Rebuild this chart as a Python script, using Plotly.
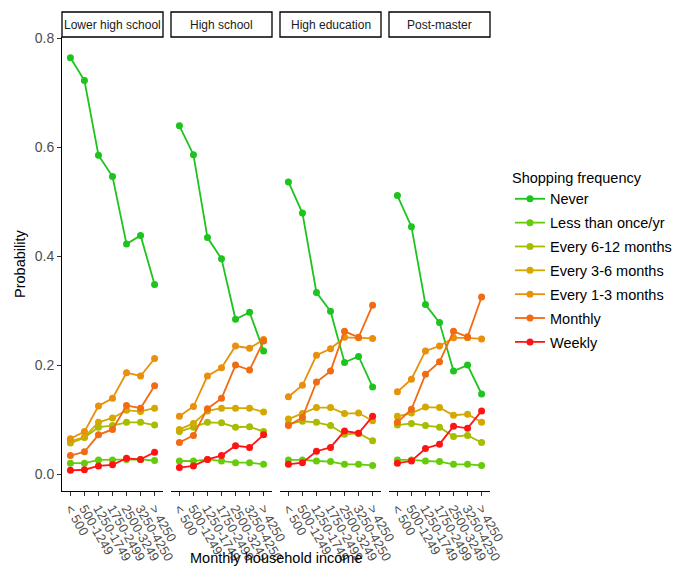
import plotly.graph_objects as go

income = ["< 500", "500-1249", "1250-1749", "1750-2499", "2500-3249", "3250-4250", "> 4250"]
education = ["Lower high school", "High school", "High education", "Post-master"]
frequency = ["Never", "Less than once/yr", "Every 6-12 months", "Every 3-6 months",
             "Every 1-3 months", "Monthly", "Weekly"]
colors = ["#1DC41D", "#66CC0A", "#A8BC00", "#D4A800", "#E8900A", "#F26B12", "#FF1414"]

# probabilities per education level, one list per frequency (order as `frequency`)
lower_high_school = [
    [0.764, 0.722, 0.585, 0.546, 0.422, 0.438, 0.348],
    [0.020, 0.020, 0.026, 0.026, 0.027, 0.027, 0.025],
    [0.057, 0.067, 0.086, 0.089, 0.095, 0.095, 0.090],
    [0.060, 0.068, 0.095, 0.103, 0.117, 0.115, 0.121],
    [0.065, 0.078, 0.125, 0.139, 0.186, 0.180, 0.212],
    [0.034, 0.041, 0.072, 0.082, 0.126, 0.121, 0.162],
    [0.007, 0.008, 0.015, 0.017, 0.029, 0.027, 0.040],
]
high_school = [
    [0.639, 0.586, 0.434, 0.395, 0.284, 0.297, 0.226],
    [0.024, 0.024, 0.027, 0.024, 0.021, 0.021, 0.018],
    [0.078, 0.086, 0.095, 0.094, 0.086, 0.087, 0.078],
    [0.082, 0.093, 0.116, 0.121, 0.121, 0.121, 0.114],
    [0.106, 0.124, 0.180, 0.195, 0.235, 0.231, 0.247],
    [0.058, 0.071, 0.120, 0.139, 0.200, 0.191, 0.244],
    [0.012, 0.015, 0.027, 0.034, 0.052, 0.049, 0.072],
]
high_education = [
    [0.536, 0.479, 0.333, 0.299, 0.205, 0.216, 0.160],
    [0.026, 0.026, 0.024, 0.023, 0.018, 0.018, 0.016],
    [0.092, 0.097, 0.095, 0.089, 0.073, 0.075, 0.061],
    [0.101, 0.111, 0.122, 0.122, 0.111, 0.112, 0.098],
    [0.142, 0.163, 0.218, 0.230, 0.251, 0.250, 0.249],
    [0.089, 0.104, 0.169, 0.189, 0.262, 0.251, 0.310],
    [0.018, 0.021, 0.042, 0.049, 0.079, 0.075, 0.106],
]
post_master = [
    [0.511, 0.454, 0.311, 0.278, 0.189, 0.200, 0.147],
    [0.026, 0.026, 0.024, 0.023, 0.018, 0.018, 0.016],
    [0.090, 0.093, 0.089, 0.086, 0.069, 0.071, 0.058],
    [0.106, 0.112, 0.123, 0.122, 0.108, 0.110, 0.095],
    [0.151, 0.174, 0.226, 0.235, 0.250, 0.250, 0.248],
    [0.095, 0.119, 0.183, 0.206, 0.262, 0.252, 0.325],
    [0.020, 0.024, 0.047, 0.055, 0.088, 0.084, 0.116],
]
panels = [lower_high_school, high_school, high_education, post_master]

W, H = 688, 568
L, R, T, B = 62, 198, 37, 77
pw = W - L - R  # 428
ph = H - T - B  # 454
panel_w, gap = 101, 8

fig = go.Figure()
font = "Liberation Sans, Arial, sans-serif"

for p, data in enumerate(panels):
    xa = "x" if p == 0 else f"x{p+1}"
    ya = "y" if p == 0 else f"y{p+1}"
    for i, name in enumerate(frequency):
        fig.add_trace(go.Scatter(
            x=income, y=data[i], mode="lines+markers", name=name,
            line=dict(color=colors[i], width=1.8),
            marker=dict(color=colors[i], size=7),
            legendgroup=name, showlegend=(p == 0),
            xaxis=xa, yaxis=ya,
        ))
    x0 = (panel_w + gap) * p / pw
    x1 = ((panel_w + gap) * p + panel_w) / pw
    axkey = "xaxis" if p == 0 else f"xaxis{p+1}"
    aykey = "yaxis" if p == 0 else f"yaxis{p+1}"
    fig.update_layout(**{
        axkey: dict(domain=[x0, x1], anchor=ya, type="category", range=[-0.6, 6.6],
                    tickmode="array", tickvals=income, ticktext=income,
                    showline=True, linecolor="black", linewidth=1,
                    ticks="outside", ticklen=4, tickcolor="#333333",
                    tickangle=60, showgrid=False, zeroline=False, automargin=False,
                    tickfont=dict(family=font, size=13, color="#4D4D4D")),
        aykey: dict(domain=[0, 1], anchor=xa, range=[-0.031, 0.802],
                    showgrid=False, zeroline=False, automargin=False,
                    showline=(p == 0), linecolor="black", linewidth=1,
                    ticks="outside" if p == 0 else "", ticklen=4, tickcolor="#333333",
                    showticklabels=(p == 0),
                    tickvals=[0, 0.2, 0.4, 0.6, 0.8],
                    ticktext=["0.0", "0.2", "0.4", "0.6", "0.8"],
                    tickfont=dict(family=font, size=14, color="#4D4D4D")),
    })
    # facet strip
    fig.add_shape(type="rect", xref="paper", yref="paper",
                  x0=x0, x1=x1, y0=1.0, y1=1 + 25 / ph,
                  line=dict(color="black", width=1.3), fillcolor="white")
    fig.add_annotation(text=education[p], xref="paper", yref="paper",
                       x=(x0 + x1) / 2, y=1 + 12.5 / ph, showarrow=False,
                       xanchor="center", yanchor="middle",
                       font=dict(family=font, size=12, color="#1A1A1A"))

fig.add_annotation(text="Probability", xref="paper", yref="paper",
                   x=(20 - L) / pw, y=0.5, textangle=-90, showarrow=False,
                   xanchor="center", yanchor="middle",
                   font=dict(family=font, size=14.5, color="black"))
fig.add_annotation(text="Monthly household income", xref="paper", yref="paper",
                   x=0.5, y=-(558 - (T + ph)) / ph, showarrow=False,
                   xanchor="center", yanchor="middle",
                   font=dict(family=font, size=14.5, color="black"))

fig.update_layout(
    width=W, height=H,
    margin=dict(l=L, r=R, t=T, b=B, autoexpand=False),
    plot_bgcolor="white", paper_bgcolor="white",
    legend=dict(
        title=dict(text="Shopping frequency", font=dict(family=font, size=14.5, color="black")),
        x=(510 - L) / pw, xanchor="left", y=(491 - 164) / ph, yanchor="top",
        font=dict(family=font, size=14.5, color="black"),
        tracegroupgap=2, bgcolor="rgba(0,0,0,0)",
    ),
)

fig.write_html("out.html", config={"displayModeBar": False},
               post_script="document.body.style.margin='0px';document.body.style.overflow='hidden';")
